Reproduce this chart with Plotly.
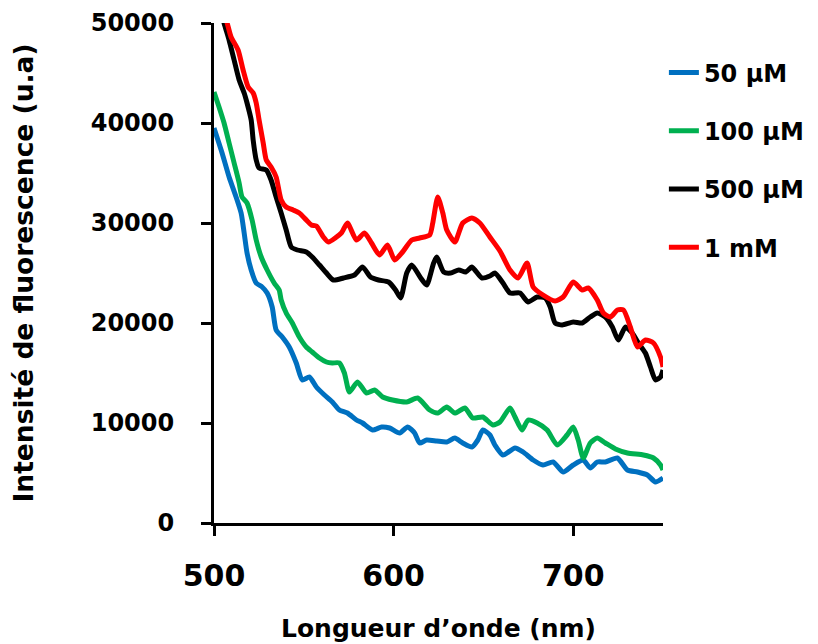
import plotly.graph_objects as go

# ---- data ----
series_names = ["50 µM", "100 µM", "500 µM", "1 mM"]
series_colors = ["#0070C0", "#00B050", "#000000", "#FF0000"]

wl_50uM = [500, 504.5, 508.4, 512.3, 515.1, 516.8, 518.4, 520.7, 523.5, 526.8, 529.6,
           532.4, 534.6, 538.0, 541.9, 545.8, 549.2, 553.1, 557.0, 561.5, 565.9, 569.8,
           574.3, 579.3, 582.7, 588.3, 593.3, 597.8, 603.4, 607.8, 611.7, 614.5, 618.4,
           624.0, 629.6, 634.1, 638.5, 643.6, 646.9, 649.7, 653.6, 656.4, 660.9, 667.6,
           672.1, 677.7, 683.2, 688.8, 694.4, 700.0, 705.6, 709.5, 713.4, 717.9, 724.6,
           730.2, 735.8, 741.3, 745.8, 750]
int_50uM = [39500, 37000, 34600, 32600, 31000, 29000, 27000, 25300, 24000, 23600, 23000,
            21600, 19300, 18600, 17600, 16000, 14300, 14600, 13600, 12800, 12100, 11300,
            11000, 10300, 10000, 9300, 9600, 9500, 9000, 9600, 9000, 8000, 8300,
            8200, 8100, 8500, 8000, 7600, 8300, 9300, 8800, 7800, 6800, 7500,
            7100, 6300, 5800, 6100, 5100, 5800, 6300, 5500, 6100, 6100, 6500,
            5300, 5100, 4800, 4100, 4500]

wl_100uM = [500, 502.8, 505.6, 508.4, 511.2, 514.0, 515.6, 518.4, 521.2, 523.5, 526.3,
            529.6, 533.5, 536.3, 537.4, 540.2, 543.6, 547.5, 551.4, 554.7, 558.7, 562.6,
            565.9, 569.8, 572.6, 575.4, 579.9, 584.9, 589.4, 593.9, 599.4, 607.3, 613.4,
            620.1, 624.6, 629.6, 634.1, 639.7, 644.1, 649.7, 655.3, 659.2, 664.8, 667.6,
            671.5, 674.9, 679.9, 685.5, 691.1, 696.6, 700.0, 702.8, 705.6, 709.5, 713.4,
            717.9, 723.5, 730.2, 739.1, 744.7, 748.6, 750]
int_100uM = [43100, 41600, 40000, 38000, 36000, 34000, 32600, 32000, 30300, 28300, 26600,
             25300, 24000, 23300, 22300, 21000, 20000, 18600, 17600, 17100, 16500, 16100,
             16000, 16000, 15000, 13100, 14100, 13000, 13300, 12600, 12300, 12100, 12500,
             11300, 11000, 11600, 11000, 11500, 10500, 10600, 9800, 10100, 11500, 10600,
             9300, 10300, 10000, 9300, 7800, 8800, 9600, 8300, 6500, 8000, 8500,
             8000, 7400, 7000, 6800, 6500, 5800, 5300]

wl_500uM = [500, 505.6, 508.4, 511.2, 514.0, 516.8, 518.4, 520.7, 521.8, 523.5, 525.1,
            529.1, 531.8, 534.6, 537.4, 540.2, 543.0, 546.4, 551.4, 554.7, 558.7, 562.6,
            566.5, 572.1, 578.2, 582.7, 587.1, 591.6, 597.2, 601.1, 603.9, 607.3, 610.1,
            615.1, 618.4, 622.3, 624.0, 627.9, 631.8, 636.3, 640.2, 643.6, 649.2, 653.6,
            656.4, 660.9, 664.8, 670.4, 674.9, 679.9, 684.4, 687.2, 689.9, 693.9, 700.0,
            705.0, 709.5, 713.4, 717.9, 721.8, 725.1, 729.1, 732.9, 736.3, 740.2, 743.0,
            745.8, 748.6, 750]
int_500uM = [54000, 50000, 48300, 46300, 44300, 43000, 42000, 40300, 38300, 36300, 35500,
             35300, 34300, 32600, 31000, 29300, 27600, 27300, 27100, 26600, 25800, 25000,
             24300, 24500, 24800, 25600, 24600, 24300, 24100, 23300, 22500, 25000, 25800,
             24500, 23800, 26000, 26600, 25100, 25000, 25300, 25100, 25600, 24500, 24700,
             25000, 24000, 23000, 23000, 22100, 22600, 22500, 21600, 20000, 19800, 20100,
             20000, 20600, 21000, 20600, 19600, 18300, 19600, 19000, 18000, 17000, 15600,
             14300, 14600, 15300]

wl_1mM = [500, 507.3, 509.5, 513.4, 516.2, 519.0, 521.8, 523.5, 525.1, 527.4, 529.1,
          531.8, 534.6, 537.4, 540.2, 544.1, 547.5, 551.4, 554.2, 557.0, 560.9, 563.7,
          570.9, 574.3, 579.3, 583.8, 587.7, 592.2, 596.6, 600.6, 605.0, 610.1, 614.5,
          620.1, 621.8, 624.6, 627.4, 629.6, 634.1, 638.5, 643.6, 648.0, 653.6, 659.2,
          664.8, 669.3, 674.3, 677.7, 683.2, 689.9, 694.4, 700.0, 705.0, 708.4, 713.4,
          716.8, 720.7, 724.6, 728.0, 731.8, 735.8, 740.2, 744.7, 748.6, 750]
int_1mM = [53500, 50000, 48600, 47300, 45300, 43600, 43000, 42000, 40300, 38000, 36300,
           35600, 34600, 32300, 31600, 31300, 31000, 30300, 29800, 29700, 28600, 28100,
           29000, 30000, 28300, 29000, 28000, 26800, 27800, 26300, 27100, 28300, 28500,
           28800, 30000, 32600, 31000, 29300, 28100, 30000, 30500, 30000, 28600, 27200,
           25300, 24500, 26000, 23600, 22800, 22200, 22600, 24100, 23300, 23500, 22300,
           21000, 20600, 21300, 21300, 19600, 17600, 18300, 18000, 16600, 15600]

x_ticks = [500, 600, 700]
y_ticks = [0, 10000, 20000, 30000, 40000, 50000]

wavelengths = [wl_50uM, wl_100uM, wl_500uM, wl_1mM]
intensities = [int_50uM, int_100uM, int_500uM, int_1mM]

FONT = "DejaVu Sans"

fig = go.Figure()
for i, (name, col, wl, it) in enumerate(zip(series_names, series_colors, wavelengths, intensities)):
    fig.add_trace(go.Scatter(
        x=wl, y=it, mode="lines", name=name, legendgroup=f"g{i}",
        line=dict(color=col, width=5, shape="spline", smoothing=0.6),
    ))

# page body adds an 8px offset, so the figure is sized to fit inside the window
fig.update_layout(
    width=810, height=636,
    margin=dict(l=206, r=155, t=15, b=121, autoexpand=False),
    paper_bgcolor="white", plot_bgcolor="white",
    font=dict(family=FONT, color="black"),
    showlegend=True,
    legend=dict(
        x=1.002, y=0.945, xanchor="left", yanchor="top",
        font=dict(family=FONT, size=24, color="black", weight="bold"),
        tracegroupgap=24, bgcolor="rgba(0,0,0,0)", borderwidth=0,
    ),
    xaxis=dict(
        range=[500, 750], tickvals=x_ticks, ticktext=[str(v) for v in x_ticks],
        showgrid=False, zeroline=False, automargin=False,
        showline=True, linecolor="black", linewidth=3,
        ticks="outside", ticklen=10, tickwidth=3, tickcolor="black",
        tickfont=dict(family=FONT, size=30, color="black", weight="bold"),
        ticklabelstandoff=14,
        title=dict(text="Longueur d’onde (nm)", standoff=28,
                   font=dict(family=FONT, size=25, color="black", weight="bold")),
    ),
    yaxis=dict(
        range=[0, 50000], tickvals=y_ticks, ticktext=[str(v) for v in y_ticks],
        showgrid=False, zeroline=False, automargin=False,
        showline=True, linecolor="black", linewidth=3,
        ticks="outside", ticklen=10, tickwidth=3, tickcolor="black",
        tickfont=dict(family=FONT, size=24, color="black", weight="bold"),
        ticklabelstandoff=22,
        title=dict(text="Intensité de fluorescence (u.a)", standoff=52,
                   font=dict(family=FONT, size=26.5, color="black", weight="bold")),
    ),
)

fig.write_html("out.html")
